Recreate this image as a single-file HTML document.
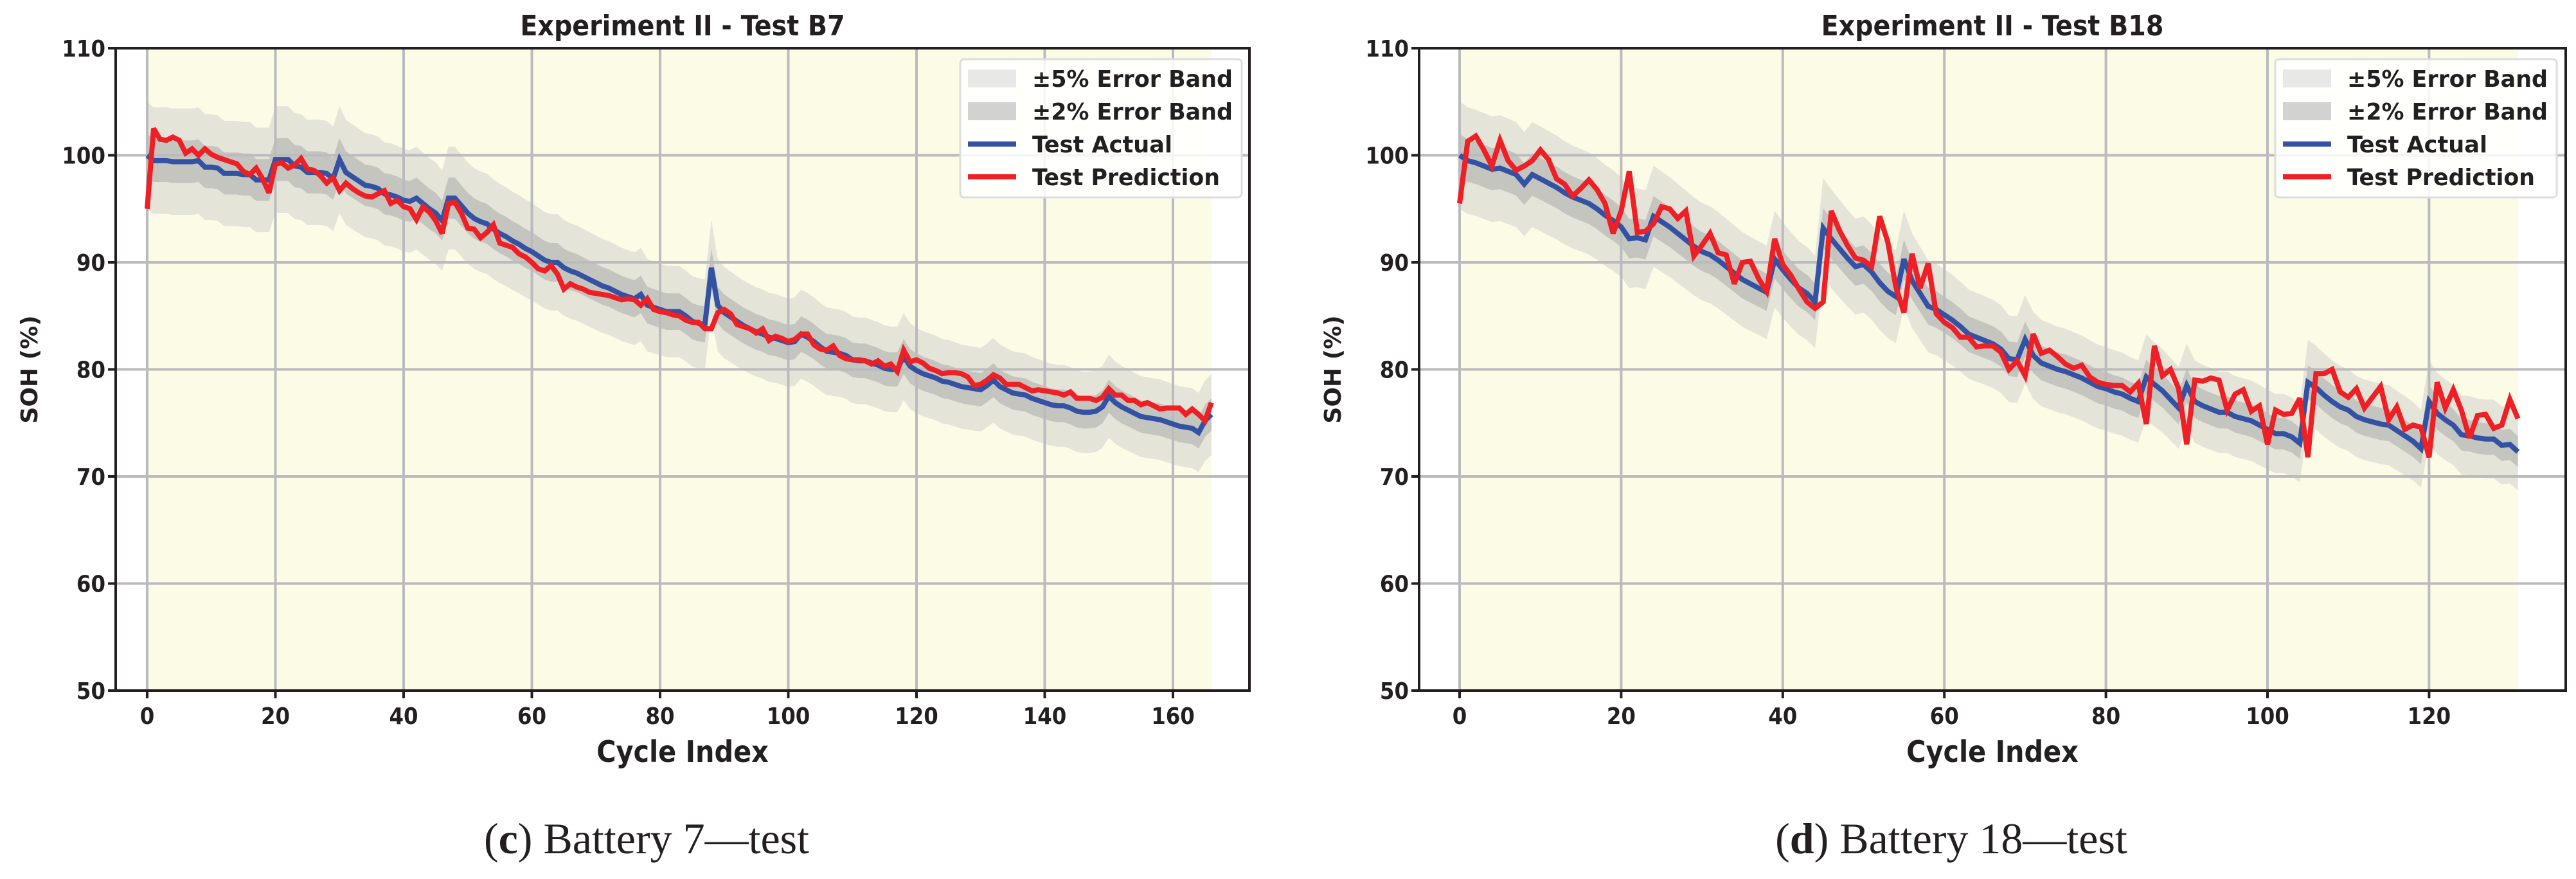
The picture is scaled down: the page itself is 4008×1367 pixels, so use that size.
<!DOCTYPE html>
<html><head><meta charset="utf-8"><style>
html,body{margin:0;padding:0;background:#fff;}
svg{display:block;}
.tk{font-family:"DejaVu Sans Condensed","DejaVu Sans","Liberation Sans",sans-serif;font-weight:bold;font-stretch:condensed;font-size:36px;fill:#231f20;}
.ttl{font-family:"DejaVu Sans Condensed","DejaVu Sans","Liberation Sans",sans-serif;font-weight:bold;font-stretch:condensed;font-size:44px;fill:#231f20;}
.xl{font-family:"DejaVu Sans Condensed","DejaVu Sans","Liberation Sans",sans-serif;font-weight:bold;font-stretch:condensed;font-size:46px;fill:#231f20;}
.yl{font-family:"DejaVu Sans","Liberation Sans",sans-serif;font-weight:bold;font-size:36px;fill:#231f20;}
.cap{font-family:"Liberation Serif","DejaVu Serif",serif;font-size:68px;fill:#231f20;}
</style></head><body>
<svg id="root" width="4008" height="1367" viewBox="0 0 4008 1367" xmlns="http://www.w3.org/2000/svg"></svg>
<script>
const b7Actual = [100,99.5,99.5,99.5,99.4,99.4,99.4,99.4,99.5,98.9,98.9,98.8,98.3,98.3,98.3,98.2,98.2,97.7,97.7,97.7,99.6,99.6,99.6,99,98.9,98.4,98.4,98.4,98.3,97.8,99.6,98.4,98,97.6,97.2,97.1,96.9,96.4,96.3,96.1,95.8,95.7,96,95.5,95,94.6,93.9,96,96,95.3,94.6,94.1,93.8,93.6,93.1,92.7,92.4,92,91.7,91.3,91,90.6,90.2,90,90,89.5,89.2,89,88.7,88.4,88.1,87.8,87.6,87.3,87,86.8,86.6,87,86,85.8,85.6,85.4,85.4,85.4,85,84.5,84.3,84.2,89.5,86,85.3,84.9,84.5,84.1,83.8,83.5,83.3,83,82.9,82.7,82.5,82.6,83.3,83,82.6,82.1,81.7,81.6,81.5,81.3,80.9,80.8,80.8,80.6,80.4,80.1,80,80,81.2,80.3,79.9,79.6,79.4,79.2,78.9,78.8,78.6,78.4,78.3,78.2,78.1,78.5,79,78.4,78.1,77.8,77.7,77.6,77.3,77.1,76.9,76.7,76.6,76.6,76.4,76.1,76,76,76.1,76.5,77.5,76.9,76.5,76.2,75.9,75.6,75.5,75.4,75.3,75.1,74.9,74.7,74.6,74.5,74.1,75.2,75.8];
const b7Pred = [95,102.5,101.5,101.4,101.7,101.4,100.2,100.6,100,100.6,100.1,99.8,99.6,99.4,99.2,98.5,98.2,98.8,97.8,96.5,99.2,99.3,98.8,99.1,99.7,98.7,98.6,98.1,97.4,97.9,96.7,97.4,96.9,96.5,96.2,96.1,96.4,96.7,95.5,95.8,95.2,95,94,95.2,94.7,93.9,92.7,95.5,95.6,94.6,93.2,93.1,92.3,92.8,93.5,91.8,91.6,91.4,90.8,90.5,90,89.4,89.2,89.7,88.9,87.5,88,87.7,87.5,87.2,87.1,87,86.9,86.7,86.5,86.6,86.5,86,86.6,85.6,85.4,85.3,85.1,85,84.6,84.4,84.4,83.8,83.8,85.3,85.6,85.2,84.2,84,83.8,83.4,83.8,82.7,83.1,82.9,82.6,82.8,83.3,83.3,82.3,81.9,81.8,82.2,81.3,81,80.9,80.9,80.8,80.5,80.8,80.3,80.5,79.8,81.8,80.7,80.9,80.6,80.1,79.9,79.6,79.7,79.7,79.6,79.3,78.5,78.6,79,79.5,79.2,78.6,78.6,78.6,78.3,78,78.1,78,77.9,77.8,77.6,77.9,77.3,77.3,77.3,77.1,77.4,78.2,77.6,77.6,77.1,77.1,76.7,76.9,76.6,76.3,76.4,76.4,76.4,75.8,76.3,75.8,75.2,76.9];
const b18Actual = [100,99.5,99.3,99,98.7,98.8,98.5,98.2,97.3,98.2,97.8,97.4,97,96.5,96.1,95.8,95.5,95,94.4,93.9,93.3,92.2,92.3,92.1,94.3,93.8,93.3,92.7,92.1,91.5,91,90.7,90.2,89.6,89,88.4,88,87.6,87.2,90.3,89.3,88.4,87.6,87.1,86.3,93.2,92.2,91.3,90.4,89.6,89.8,89.1,88.1,87.3,86.8,90.3,88.3,87.1,85.9,85.6,85.1,84.6,84,83.3,83,82.7,82.4,81.9,81,80.9,82.8,81.3,80.6,80.3,80,79.8,79.5,79.2,78.8,78.4,78.2,77.9,77.7,77.3,77,79.3,78.6,78,77.2,76.4,78.5,77,76.6,76.3,76,76,75.6,75.4,75.2,74.8,74.4,74,74,73.7,73.1,78.8,78.3,77.6,77,76.5,76.2,75.6,75.3,75.1,74.9,74.8,74.3,73.8,73.3,72.6,77,75.9,75.3,74.8,73.9,73.8,73.6,73.5,73.5,72.9,73,72.3];
const b18Pred = [95.5,101.3,101.8,100.5,99,101.4,99.5,98.6,99,99.5,100.5,99.6,97.8,97.3,96.2,96.9,97.7,96.8,95.5,92.7,94.8,98.5,92.8,92.9,93.6,95.2,95,94.1,94.8,90.6,91.6,92.7,90.9,90.7,88,90,90.1,88.5,87.3,92.2,89.8,88.8,87.5,86.3,85.7,86.3,94.8,93,91.6,90.4,90.2,89.6,94.3,91.9,87.7,85.3,90.8,87.6,89.9,85.2,84.4,83.9,83,83,82.1,82.2,82.2,81.6,80,80.8,79.4,83.3,81.5,81.8,81.2,80.5,80.1,80.4,79.3,78.8,78.6,78.5,78.5,77.9,78.7,74.9,82.2,79.4,80,78.2,73,79,78.9,79.2,79,76.2,77.7,78.1,76.1,76.6,73,76.2,75.8,75.9,77.3,71.8,79.6,79.6,80,77.9,77.4,78.2,76.4,77.4,78.4,75.3,76.5,74.4,74.8,74.6,71.8,78.8,76.4,78.1,76.2,73.6,75.7,75.8,74.5,74.8,77.2,75.4];
const yTicks = [50,60,70,80,90,100,110];
const b7XTicks = [0,20,40,60,80,100,120,140,160];
const b18XTicks = [0,20,40,60,80,100,120];
const legendLabels = ["±5% Error Band","±2% Error Band","Test Actual","Test Prediction"];

const NS = "http://www.w3.org/2000/svg";
const root = document.getElementById('root');
function mk(tag, attrs, parent){ const e=document.createElementNS(NS,tag); for(const k in attrs) e.setAttribute(k,attrs[k]); (parent||root).appendChild(e); return e; }

function drawChart(cfg){
  const g = mk('g',{});
  
  
  const L=cfg.left,R=cfg.right,T=75,B=1074;
  const xs = v => cfg.x0 + v*cfg.xk;
  const ys = v => T + (110-v)*(B-T)/60;
  const n = cfg.actual.length;
  const bg = mk('rect',{x:xs(0),y:T,width:xs(n-1)-xs(0),height:B-T,fill:'#fcfbe6'},g);
  
  
  function band(f,color,name){
    let up=[],lo=[];
    for(let i=0;i<n;i++){ up.push(xs(i)+','+ys(cfg.actual[i]*(1+f))); lo.unshift(xs(i)+','+ys(cfg.actual[i]*(1-f))); }
    const p = mk('polygon',{points:up.concat(lo).join(' '),fill:color},g);
    
    
  }
  band(0.05,'#e4e4d8','error-band-5pct');
  band(0.02,'#c5c5bf','error-band-2pct');
  yTicks.forEach(t=>{
    const l = mk('line',{x1:L,x2:R,y1:ys(t),y2:ys(t),stroke:'#bbbbbf','stroke-width':4},g);
    
    
  });
  cfg.xTicks.forEach(t=>{
    const l = mk('line',{x1:xs(t),x2:xs(t),y1:T,y2:B,stroke:'#bbbbbf','stroke-width':4},g);
    
    
  });
  function line(arr,color,name){
    const pts = arr.map((v,i)=>xs(i)+','+ys(v)).join(' ');
    const p = mk('polyline',{points:pts,fill:'none',stroke:color,'stroke-width':8,'stroke-linejoin':'miter','stroke-miterlimit':3},g);
    
    
  }
  line(cfg.actual,'#3452a4','test-actual-line');
  line(cfg.pred,'#ee1f25','test-prediction-line');
  const fr = mk('rect',{x:L,y:T,width:R-L,height:B-T,fill:'none',stroke:'#231f20','stroke-width':4},g);
  
  
  yTicks.forEach(t=>{
    mk('line',{x1:L-12,x2:L,y1:ys(t),y2:ys(t),stroke:'#231f20','stroke-width':4},g);
    const tx = mk('text',{x:L-16,y:ys(t)+13,'text-anchor':'end',class:'tk'},g);
    tx.textContent=t;
    
    
  });
  cfg.xTicks.forEach(t=>{
    mk('line',{x1:xs(t),x2:xs(t),y1:B,y2:B+12,stroke:'#231f20','stroke-width':4},g);
    const tx = mk('text',{x:xs(t),y:B+52,'text-anchor':'middle',class:'tk'},g);
    tx.textContent=t;
    
    
  });
  const ti = mk('text',{x:(L+R)/2,y:55,'text-anchor':'middle',class:'ttl'},g);
  ti.textContent=cfg.title;
  
  
  const xl = mk('text',{x:(L+R)/2,y:1185,'text-anchor':'middle',class:'xl'},g);
  xl.textContent='Cycle Index';
  
  
  const yl = mk('text',{x:0,y:0,'text-anchor':'middle',class:'yl',transform:'translate('+(L-122)+','+((T+B)/2)+') rotate(-90)'},g);
  yl.textContent='SOH (%)';
  
  
  const lx=cfg.legX, ly=92;
  const lg = mk('g',{},g);
  
  
  mk('rect',{x:lx,y:ly,width:438,height:215,rx:6,fill:'#ffffff','fill-opacity':0.85,stroke:'#dddddd','stroke-width':3},lg);
  const colors=['#e8e8e8','#d2d2d2','#3452a4','#ee1f25'];
  const lens=[312,312,218,292];
  legendLabels.forEach((lab,i)=>{
    const cy = ly+30+i*51;
    const ent = mk('g',{},lg);
    
    
    if(i<2) mk('rect',{x:lx+12,y:cy-14,width:75,height:28,fill:colors[i]},ent);
    else mk('line',{x1:lx+12,x2:lx+87,y1:cy,y2:cy,stroke:colors[i],'stroke-width':8},ent);
    const t = mk('text',{x:lx+112,y:cy+13,class:'tk',textLength:lens[i],lengthAdjust:'spacingAndGlyphs'},ent);
    t.textContent=lab;
  });
  const cap = mk('text',{x:cfg.capX,y:1327,'text-anchor':'middle',class:'cap'},g);
  cap.innerHTML = '(<tspan font-weight="bold">'+cfg.capLetter+'</tspan>) '+cfg.capText;
  
  
}

drawChart({id:'b7',left:180,right:1944,x0:229,xk:9.975,actual:b7Actual,pred:b7Pred,xTicks:b7XTicks,title:'Experiment II - Test B7',legX:1494,capX:1006,capLetter:'c',capText:'Battery 7—test'});
drawChart({id:'b18',left:2208,right:3992,x0:2271,xk:12.57,actual:b18Actual,pred:b18Pred,xTicks:b18XTicks,title:'Experiment II - Test B18',legX:3540,capX:3036,capLetter:'d',capText:'Battery 18—test'});
</script>
</body></html>
